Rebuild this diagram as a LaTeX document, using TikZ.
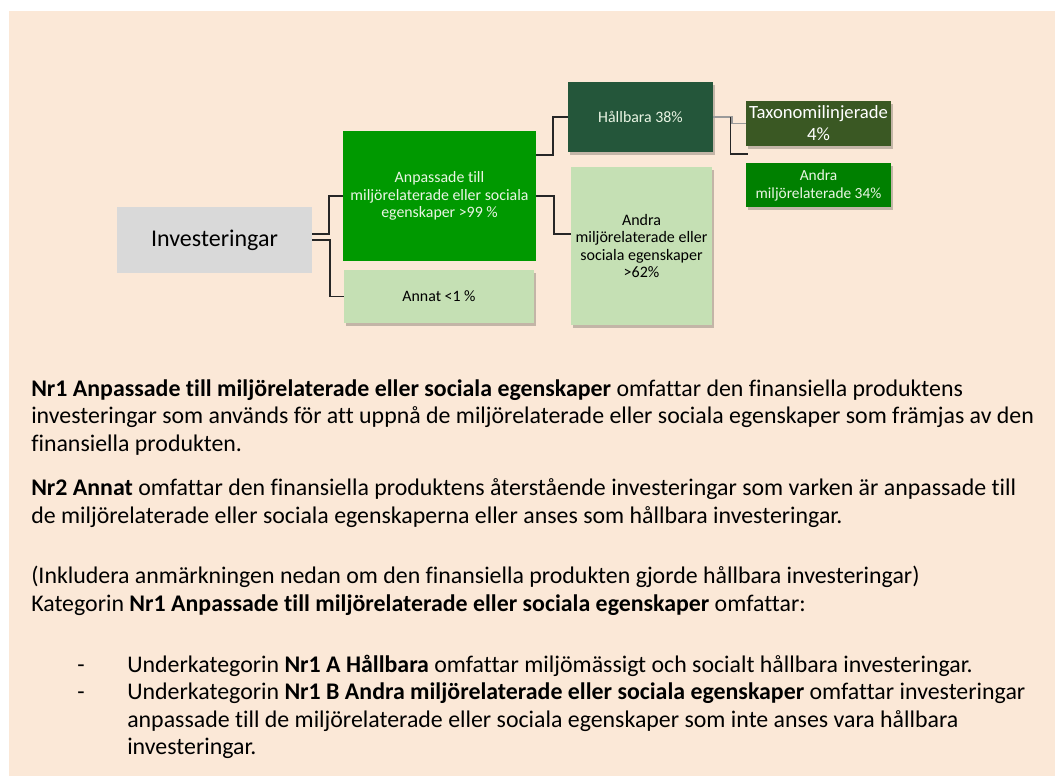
\documentclass[tikz,border=0pt]{standalone}
\usepackage{fontspec}
\setmainfont[Ligatures={NoCommon}]{Carlito}
\usetikzlibrary{shadows}
\definecolor{bg}{HTML}{FBE8D7}
\definecolor{invgray}{HTML}{D9D9D9}
\definecolor{midgreen}{HTML}{009900}
\definecolor{lightgreen}{HTML}{C5E0B4}
\definecolor{darkgreen}{HTML}{24563A}
\definecolor{olivegreen}{HTML}{3A5823}
\definecolor{green34}{HTML}{008000}
\definecolor{paletext}{HTML}{EAF5E4}
\definecolor{conncol}{HTML}{262626}
\definecolor{conngray}{HTML}{9A9A9A}
\begin{document}
\begin{tikzpicture}[x=0.75pt,y=-0.75pt,
  sz/.style 2 args={minimum width=#1*0.75pt, minimum height=#2*0.75pt},
  box/.style={inner sep=0pt, align=center},
  shadowed/.style={drop shadow={shadow xshift=1.2pt, shadow yshift=-2.2pt, fill=black, opacity=0.22}},
  conn/.style={draw=conncol, line width=1pt},
  conng/.style={draw=conngray, line width=1pt},
  bodytext/.style={anchor=base west, inner sep=0pt, font=\fontsize{17.9}{20.7}\selectfont}
]
\useasboundingbox (0,0) rectangle (1055,776);
\fill[white] (0,0) rectangle (1055,776);
\fill[bg] (9,11) rectangle (1055,776);

% boxes
\node[box, sz={195}{66}, fill=invgray, font=\fontsize{18}{21}\selectfont] (inv) at (214.5,240) {Investeringar};
\node[box, sz={193}{130}, fill=midgreen, text=paletext, font=\fontsize{11.9}{13.2}\selectfont] (anp) at (439.5,196) {Anpassade till\\miljörelaterade eller sociala\\egenskaper >99 \%};
\node[box, sz={190}{53}, fill=lightgreen, shadowed, font=\fontsize{11.9}{13.2}\selectfont] (annat) at (439,296.5) {Annat <1 \%};
\node[box, sz={145}{70}, fill=darkgreen, shadowed, text=paletext, font=\fontsize{11.9}{13.2}\selectfont] (hall) at (640.5,117) {Hållbara 38\%};
\node[box, sz={141}{158}, fill=lightgreen, shadowed, font=\fontsize{12}{13.2}\selectfont] (andra) at (641.5,246) {Andra\\miljörelaterade eller\\sociala egenskaper\\>62\%};
\node[box, sz={145}{45}, fill=olivegreen, shadowed, text=white, font=\fontsize{14}{16.5}\selectfont] (taxo) at (818.5,123.5) {Taxonomilinjerade\\4\%};
\node[box, sz={145}{44}, fill=green34, shadowed, text=paletext, font=\fontsize{11.55}{13.5}\selectfont] (andra34) at (818.5,185) {Andra\\miljörelaterade 34\%};
\coordinate (free) at (748,154);

% connectors
\draw[conn] (inv.east |- 0,234) -- (329,234) |- (anp.west);
\draw[conn] (inv.east) -- (330,240) |- (annat.west);
\draw[conn] (anp.east |- 0,155) -- (553,155) |- (hall.west);
\draw[conn] (anp.east) -- (554,196) |- (andra.west |- 0,234);
\draw[conng] (hall.east) -- (732,117) |- (taxo.west);
\draw[conn] (hall.east) ++(17,0) coordinate (hb) -- (hb |- free) -- (free);

% body text
\node[bodytext] (p1a) at (31,396) {\textbf{Nr1 Anpassade till miljörelaterade eller sociala egenskaper} omfattar den finansiella produktens};
\node[bodytext] (p1b) at (31,423.6) {investeringar som används för att uppnå de miljörelaterade eller sociala egenskaper som främjas av den};
\node[bodytext] (p1c) at (31,451.2) {finansiella produkten.};
\node[bodytext] (p2a) at (31,495.7) {\textbf{Nr2 Annat} omfattar den finansiella produktens återstående investeringar som varken är anpassade till};
\node[bodytext] (p2b) at (31,523.3) {de miljörelaterade eller sociala egenskaperna eller anses som hållbara investeringar.};
\node[bodytext] (p3a) at (31,583.3) {(Inkludera anmärkningen nedan om den finansiella produkten gjorde hållbara investeringar)};
\node[bodytext] (p3b) at (31,611.2) {Kategorin \textbf{Nr1 Anpassade till miljörelaterade eller sociala egenskaper} omfattar:};
\node[bodytext] (d1) at (77,672) {-};
\node[bodytext] (b1) at (127,672) {Underkategorin \textbf{Nr1 A Hållbara} omfattar miljömässigt och socialt hållbara investeringar.};
\node[bodytext] (d2) at (77,699.6) {-};
\node[bodytext] (b2a) at (127,699.6) {Underkategorin \textbf{Nr1 B Andra miljörelaterade eller sociala egenskaper} omfattar investeringar};
\node[bodytext] (b2b) at (127,727.2) {anpassade till de miljörelaterade eller sociala egenskaper som inte anses vara hållbara};
\node[bodytext] (b2c) at (127,754.8) {investeringar.};
\end{tikzpicture}
\end{document}
